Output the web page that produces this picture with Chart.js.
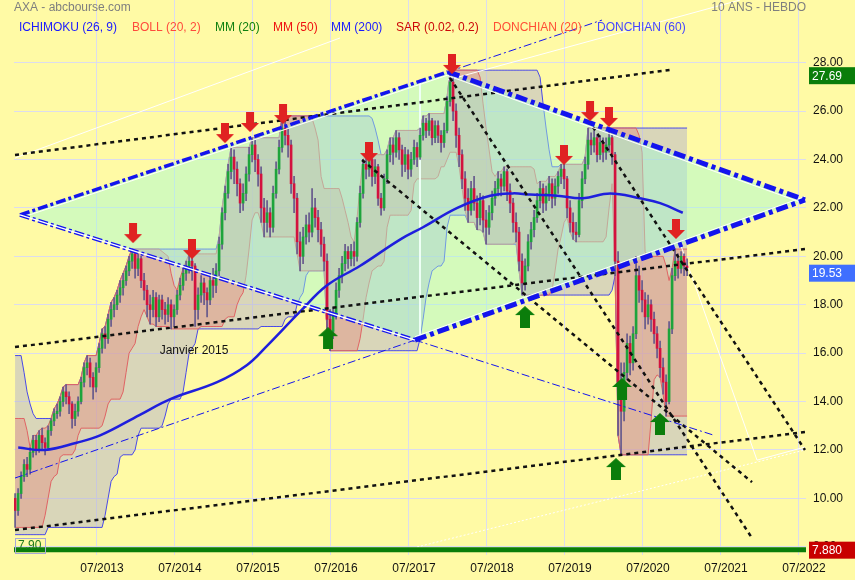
<!DOCTYPE html>
<html>
<head>
<meta charset="utf-8">
<title>AXA - 10 ans hebdo</title>
<script src="https://cdn.jsdelivr.net/npm/chart.js@4.4.1/dist/chart.umd.min.js"></script>
<style>
  html, body { margin: 0; padding: 0; background: #fffaa5; }
  canvas { display: block; }
</style>
</head>
<body>
<canvas id="axaChart" width="855" height="580"></canvas>
<script>
// -------------------------------
// Data (bi-weekly candles)
// -------------------------------
const firstDate = 2012.45;   // decimal year of the first candle
const candleStep = 1 / 26;   // two weeks
const firstOpen = 10.0;

const closes = [
  9.5,10.2,10.9,11.4,11.2,11.9,12.4,12.0,12.6,12.3,
  12.1,12.8,13.2,13.5,13.6,14.0,14.4,14.2,13.9,13.3,
  13.6,14.0,14.8,15.4,15.6,15.0,14.6,15.4,16.2,16.8,
  16.6,17.4,17.8,18.0,18.4,18.7,19.0,19.4,19.8,20.1,
  19.5,19.9,19.0,18.6,18.0,17.8,18.3,17.5,18.2,17.8,
  17.6,18.0,17.5,17.8,18.4,18.8,19.3,19.6,19.8,19.6,
  17.8,18.4,18.9,18.5,18.2,19.0,18.8,19.4,20.5,21.8,
  22.6,23.5,24.1,23.6,23.0,22.2,22.6,23.4,24.2,24.6,
  24.0,23.4,22.0,21.4,21.8,21.2,22.6,23.6,24.5,25.3,
  25.0,24.6,23.0,22.4,20.6,20.0,20.8,21.3,21.0,22.0,
  21.6,21.1,20.5,19.8,17.4,16.9,17.6,18.6,19.2,19.7,
  20.2,19.9,20.2,20.0,21.4,22.6,23.8,23.6,24.0,23.3,
  23.7,22.4,22.0,23.2,24.2,24.6,24.3,24.9,24.4,23.8,
  24.2,23.6,24.0,24.5,24.1,25.0,25.5,25.2,25.6,24.9,
  25.4,25.0,24.7,25.2,26.4,27.2,26.0,25.0,24.2,23.2,
  22.4,21.9,22.8,22.2,21.6,22.3,21.5,21.2,21.8,22.4,
  22.8,23.2,22.9,23.5,22.7,22.2,21.4,21.0,19.8,18.9,
  19.6,20.6,21.1,21.6,22.3,22.8,22.2,22.6,23.0,22.4,
  22.9,23.3,23.6,23.2,22.0,21.4,21.0,20.9,22.3,23.2,
  23.8,24.8,24.6,24.9,24.2,24.7,24.3,24.6,24.9,24.2,
  19.8,14.8,13.6,15.2,16.4,15.6,16.8,19.2,18.6,18.2,
  17.5,18.0,17.4,16.8,16.2,15.4,14.8,14.0,17.0,19.2,
  19.8,19.5,20.0,19.6,19.53
];

const highs = [
  10.2,10.4,11.1,11.6,11.7,12.1,12.6,12.6,12.8,12.9,
  12.5,13.0,13.3,13.7,13.9,14.2,14.6,14.7,14.4,14.0,
  13.9,14.2,15.0,15.6,15.9,15.8,15.2,15.6,16.4,17.0,
  17.1,17.6,18.1,18.3,18.6,19.0,19.3,19.6,20.0,20.3,
  20.2,20.1,20.0,19.3,18.8,18.4,18.6,18.5,18.4,18.4,
  18.1,18.3,18.2,18.0,18.6,19.1,19.5,19.8,20.1,20.0,
  19.7,18.7,19.2,19.1,18.7,19.3,19.5,19.7,20.8,22.0,
  22.9,23.8,24.5,24.4,23.9,23.2,23.0,23.7,24.5,24.9,
  24.8,24.2,23.7,22.4,22.3,22.0,22.9,23.9,24.8,25.8,
  25.7,25.3,24.8,23.3,22.6,21.0,21.2,21.7,21.8,22.8,
  22.4,21.9,21.4,20.8,20.1,17.8,17.9,18.9,19.5,20.0,
  20.5,20.4,20.5,20.6,21.6,22.9,24.0,24.2,24.2,24.1,
  24.0,23.8,22.6,23.4,24.4,24.9,24.9,25.2,25.1,24.6,
  24.5,24.4,24.3,24.8,24.7,25.3,25.8,25.7,25.9,25.7,
  25.6,25.6,25.2,25.5,26.6,27.69,27.4,26.3,25.3,24.4,
  23.5,22.8,23.1,23.3,22.5,22.6,22.5,21.9,22.1,22.7,
  23.1,23.5,23.4,23.7,23.6,23.0,22.4,21.8,21.2,20.1,
  19.9,20.9,21.4,21.9,22.6,23.1,23.0,22.9,23.3,23.2,
  23.2,23.5,23.8,23.8,23.3,22.3,21.8,21.4,22.6,23.5,
  24.1,25.3,25.1,25.2,25.0,25.0,24.9,24.9,25.3,25.0,
  24.3,20.2,15.6,15.6,16.8,16.7,17.1,20.0,19.6,19.0,
  18.5,18.4,18.2,17.7,17.1,16.5,15.8,15.1,17.3,19.5,
  20.3,20.1,20.2,20.1,19.9
];

const lows = [
  8.8,9.3,10.0,10.7,10.9,11.0,11.7,11.8,11.9,12.0,
  11.8,12.0,12.6,13.0,13.3,13.4,13.8,13.9,13.5,12.9,
  13.0,13.4,13.9,14.6,15.1,14.6,14.1,14.4,15.2,16.0,
  16.2,16.4,17.1,17.5,17.8,18.1,18.4,18.8,19.2,19.5,
  19.1,19.2,18.7,18.2,17.5,17.2,17.5,17.1,17.3,17.4,
  17.2,17.3,17.0,17.1,17.6,18.2,18.6,19.0,19.3,19.0,
  17.1,17.4,18.1,18.0,17.5,18.0,18.3,18.5,19.2,20.3,
  21.5,22.4,23.2,23.0,22.5,21.8,21.9,22.3,23.1,23.9,
  23.5,22.9,21.4,20.8,21.0,20.8,21.0,22.4,23.4,24.3,
  24.6,24.1,22.6,21.8,20.1,19.4,19.7,20.5,20.6,20.8,
  21.2,20.6,20.0,19.4,16.8,16.1,16.6,17.4,18.3,18.9,
  19.4,19.5,19.6,19.6,19.8,21.2,22.4,23.2,23.3,22.9,
  23.0,22.1,21.7,21.9,23.0,23.9,23.8,24.1,24.0,23.3,
  23.5,23.2,23.3,23.8,23.7,24.0,24.8,24.9,25.0,24.6,
  24.7,24.7,24.3,24.5,25.1,26.2,25.6,24.5,23.7,22.8,
  21.9,21.4,21.7,21.9,21.1,21.3,21.0,20.5,20.9,21.5,
  22.1,22.5,22.5,22.7,22.3,21.8,21.0,20.6,19.4,18.4,
  18.6,19.4,20.3,20.8,21.4,22.0,21.8,21.9,22.3,22.0,
  22.1,22.6,23.0,22.8,21.6,21.0,20.7,20.6,20.8,22.0,
  23.0,23.6,24.2,24.3,23.9,24.0,23.9,24.0,24.3,23.8,
  19.2,12.6,11.8,13.2,14.9,15.1,15.3,16.6,18.1,17.7,
  17.0,17.2,16.9,16.4,15.8,15.0,14.3,13.4,13.9,16.8,
  19.0,19.1,19.3,19.2,19.2
];

// the 60 weeks before the window, only feeding the Donchian channels
const priorHighs = [
  15.0,15.4,15.6,15.9,15.2,14.4,13.9,13.5,11.5,10.8,
  10.4,10.2,10.6,11.2,11.6,11.2,10.7,10.5,10.3,10.5,
  10.8,11.6,12.4,13.0,13.3,12.8,12.0,11.2,10.5,10.2
];
const priorLows = [
  14.5,14.8,14.6,14.2,13.0,11.0,10.0,9.6,9.4,9.0,
  8.6,8.5,9.2,10.0,10.5,9.8,9.5,9.4,9.6,9.9,
  10.1,10.6,11.5,12.2,12.4,11.5,10.8,9.8,9.2,8.9
];

// MM (200) read at a few dates
const mm200Dates = [2012.49, 2012.83, 2013.24, 2013.54, 2014.05, 2014.44, 2015.04, 2015.42,
  2015.68, 2016.10, 2016.45, 2016.87, 2017.39, 2017.68, 2018.12, 2018.54, 2018.83, 2019.05,
  2019.40, 2019.73, 2020.08, 2020.46, 2020.72, 2021.01];
const mm200Values = [12.1, 12.0, 12.3, 12.6, 13.45, 14.1, 14.8, 15.5,
  16.3, 17.7, 18.8, 19.6, 20.7, 21.2, 22.0, 22.5, 22.6, 22.55,
  22.5, 22.4, 22.6, 22.4, 22.2, 21.8];

const tickYears = [2013.5, 2014.5, 2015.5, 2016.5, 2017.5, 2018.5, 2019.5, 2020.5, 2021.5, 2022.5];
const tickLabels = ["07/2013", "07/2014", "07/2015", "07/2016", "07/2017",
  "07/2018", "07/2019", "07/2020", "07/2021", "07/2022"];
const priceTicks = [8, 10, 12, 14, 16, 18, 20, 22, 24, 26, 28];

// drawn trend lines, as [date, price] end points
const dottedLines = [
  [[2012.449, 16.25], [2022.577, 20.30]],
  [[2012.449, 24.19], [2020.846, 27.70]],
  [[2012.449, 8.69], [2022.577, 12.74]],
  [[2016.898, 23.98], [2021.898, 10.67]],
  [[2018.026, 27.37], [2021.898, 8.36]],
  [[2019.859, 25.34], [2022.577, 12.00]]
];
const diamondLeft = [2012.513, 21.71];
const diamondTop = [2018.0, 27.62];
const diamondRight = [2022.577, 22.33];
const diamondBottom = [2017.577, 16.54];
const thinBlueLines = [
  [[2018.0, 27.62], [2019.974, 29.76]],
  [[2017.577, 16.54], [2021.398, 12.62]],
  [[2012.449, 10.84], [2017.577, 16.54]]
];
const whiteLines = [
  [[2012.449, 24.06], [2016.615, 29.02]],
  [[2018.0, 27.29], [2021.744, 30.59]],
  [[2020.974, 20.55], [2021.962, 11.58], [2022.577, 12.12]],
  [[2017.641, 27.25], [2017.641, 16.62]]
];
const whiteDotted = [[2017.603, 7.99], [2022.577, 12.0]];

const redArrows = [[2013.962, 20.96], [2014.718, 20.30], [2015.141, 25.09], [2015.462, 25.55],
  [2015.885, 25.88], [2016.987, 24.31], [2018.051, 27.95], [2019.487, 24.19], [2019.821, 26.0],
  [2020.064, 25.76], [2020.923, 21.13]];
const greenArrows = [[2016.462, 16.62], [2018.987, 17.49], [2020.231, 14.52], [2020.718, 13.07],
  [2020.154, 11.21]];

const noteText = "Janvier 2015";
const notePoint = [2014.744, 16.09];

const lastClose = 19.53;
const maxHigh = 27.69;
const supportLevel = 7.88;
const lowestLabel = "7.90";

// -------------------------------
// Build series
// -------------------------------
const candleDates = closes.map((c, i) => firstDate + i * candleStep);
const opens = closes.map((c, i) => (i === 0 ? firstOpen : closes[i - 1]));

function donchian(n) {
  const hs = priorHighs.concat(highs);
  const ls = priorLows.concat(lows);
  const off = priorHighs.length;
  const up = [], dn = [];
  for (let i = 0; i < closes.length; i++) {
    const a = off + i - n + 1, b = off + i + 1;
    up.push({ x: candleDates[i], y: Math.max(...hs.slice(a, b)) });
    dn.push({ x: candleDates[i], y: Math.min(...ls.slice(a, b)) });
  }
  return { up, dn };
}
const don60 = donchian(30);
const don20 = donchian(10);

function seg(points, color, width, dash, order) {
  return {
    type: "line",
    data: points.map(p => ({ x: p[0], y: p[1] })),
    borderColor: color,
    borderWidth: width,
    borderDash: dash || [],
    pointRadius: 0,
    fill: false,
    tension: 0,
    order: order
  };
}

// shift a segment a little in price (white edge along the blue lines)
function shifted(a, b, dy) {
  return [[a[0], a[1] + dy], [b[0], b[1] + dy]];
}

function arrowImage(color, down) {
  const c = document.createElement("canvas");
  const g = c.getContext("2d");
  let pts;
  if (down) {
    c.width = 18; c.height = 20;
    pts = [[5, 0], [13, 0], [13, 11], [18, 11], [9, 20], [0, 11], [5, 11]];
  } else {
    c.width = 20; c.height = 22;
    pts = [[10, 0], [20, 9], [15, 9], [15, 22], [5, 22], [5, 9], [0, 9]];
  }
  g.fillStyle = color;
  g.beginPath();
  pts.forEach((p, i) => (i ? g.lineTo(p[0], p[1]) : g.moveTo(p[0], p[1])));
  g.closePath();
  g.fill();
  return c;
}

const GREEN = "#1ea43c";
const RED = "#d3123e";
const BLUE = "#1414ee";
const DOT = [4, 4];
const DASHDOT = [12, 4, 4, 4];

const datasets = [];

// Donchian 60 (blue) and 20 (red) channels
datasets.push({ type: "line", data: don60.up, borderColor: "#4a4ae8", borderWidth: 1, pointRadius: 0,
  fill: "+1", backgroundColor: "rgba(180,178,205,0.5)", order: 100 });
datasets.push({ type: "line", data: don60.dn, borderColor: "#4a4ae8", borderWidth: 1, pointRadius: 0,
  fill: false, order: 99 });
datasets.push({ type: "line", data: don20.up, borderColor: "#e06464", borderWidth: 1, pointRadius: 0,
  fill: "+1", backgroundColor: "rgba(225,150,135,0.5)", order: 90 });
datasets.push({ type: "line", data: don20.dn, borderColor: "#e06464", borderWidth: 1, pointRadius: 0,
  fill: false, order: 89 });

// green diamond
datasets.push({
  type: "line",
  data: [diamondLeft, diamondTop, diamondRight, diamondBottom, diamondLeft].map(p => ({ x: p[0], y: p[1] })),
  borderWidth: 0, borderColor: "rgba(0,0,0,0)", pointRadius: 0,
  fill: "shape", backgroundColor: "rgba(160,250,215,0.45)", order: 80
});

// thin white lines
whiteLines.forEach(l => datasets.push(seg(l, "#ffffff", 1, [], 70)));
datasets.push(seg(whiteDotted, "#ffffff", 1, [2, 2], 70));
datasets[datasets.length - 2].borderWidth = 2;
datasets[datasets.length - 2].borderColor = "#eefff6";

// candles
datasets.push({
  type: "bar",
  data: candleDates.map((x, i) => ({ x: x, y: [lows[i], highs[i]] })),
  backgroundColor: "#65588c", barThickness: 1, grouped: false, order: 60
});
datasets.push({
  type: "bar",
  data: candleDates.map((x, i) => ({ x: x, y: [opens[i], closes[i]] })),
  backgroundColor: closes.map((c, i) => (c >= opens[i] ? GREEN : RED)),
  barThickness: 2, minBarLength: 1, grouped: false, order: 50
});

// MM (200)
datasets.push({
  type: "line",
  data: mm200Dates.map((x, i) => ({ x: x, y: mm200Values[i] })),
  borderColor: "#1f1fdd", borderWidth: 2.5, pointRadius: 0, tension: 0.4, fill: false, order: 40
});

// black dotted trend lines
dottedLines.forEach(l => datasets.push(seg(l, "#111111", 2.5, DOT, 30)));

// blue dash-dot diamond edges
datasets.push(seg(shifted(diamondLeft, diamondTop, -0.13), "#ffffff", 1, [], 22));
datasets.push(seg(shifted(diamondTop, diamondRight, -0.16), "#ffffff", 1, [], 22));
datasets.push(seg(shifted(diamondBottom, diamondRight, 0.14), "#ffffff", 1, [], 22));
datasets.push(seg([diamondLeft, diamondTop], BLUE, 3.5, [10, 3, 3, 3], 20));
datasets.push(seg([diamondTop, diamondRight], BLUE, 5, DASHDOT, 20));
datasets.push(seg([diamondBottom, diamondRight], BLUE, 5, DASHDOT, 20));
datasets.push(seg([diamondLeft, diamondBottom], BLUE, 4, [10, 3, 3, 3], 20));
datasets.push(seg([diamondLeft, diamondBottom], "#ffffff", 1.2, [], 19));
thinBlueLines.forEach(l => datasets.push(seg(l, BLUE, 1, [8, 3, 2, 3], 20)));

// support line at the lowest level
datasets.push(seg([[2012.3, supportLevel], [2022.7, supportLevel]], "#0a7d0a", 5, [], 15));

// arrows
datasets.push({
  type: "line", showLine: false, order: 10,
  data: redArrows.map(p => ({ x: p[0], y: p[1] })),
  pointStyle: arrowImage("#e02222", true), pointRadius: 10
});
datasets.push({
  type: "line", showLine: false, order: 10,
  data: greenArrows.map(p => ({ x: p[0], y: p[1] })),
  pointStyle: arrowImage("#0b7d0b", false), pointRadius: 10
});

// -------------------------------
// Texts, boxes and background
// -------------------------------
const FONT = "Arial, 'Liberation Sans', sans-serif";

const overlay = {
  id: "overlay",
  beforeDraw(chart) {
    const ctx = chart.ctx;
    ctx.save();
    ctx.fillStyle = "#fffaa5";
    ctx.fillRect(0, 0, chart.width, chart.height);
    ctx.restore();
  },
  afterDraw(chart) {
    const ctx = chart.ctx;
    const x = chart.scales.x, y = chart.scales.y;
    ctx.save();
    ctx.font = "12px " + FONT;
    ctx.textBaseline = "middle";

    // title
    ctx.fillStyle = "#7f7f7f";
    ctx.textAlign = "left";
    ctx.fillText("AXA - abcbourse.com", 14, 8);
    ctx.textAlign = "right";
    ctx.fillText("10 ANS - HEBDO", 806, 8);

    // indicator header
    const items = [
      ["ICHIMOKU (26, 9)", "#1a1aff", 19], ["BOLL (20, 2)", "#ff4a3c", 132],
      ["MM (20)", "#108010", 215], ["MM (50)", "#ee1010", 273],
      ["MM (200)", "#1a1aff", 331], ["SAR (0.02, 0.2)", "#cc0808", 396],
      ["DONCHIAN (20)", "#ff4e36", 493], ["DONCHIAN (60)", "#4646ff", 597]
    ];
    ctx.textAlign = "left";
    items.forEach(it => { ctx.fillStyle = it[1]; ctx.fillText(it[0], it[2], 28); });

    // note under the 2015 low
    ctx.fillStyle = "#111111";
    ctx.textAlign = "center";
    ctx.fillText(noteText, x.getPixelForValue(notePoint[0]), y.getPixelForValue(notePoint[1]));

    // lowest value label
    ctx.strokeStyle = "#a8a8d8";
    ctx.lineWidth = 1;
    ctx.strokeRect(15.5, 538.5, 30, 15);
    ctx.fillStyle = "#1e7a1e";
    ctx.textAlign = "left";
    ctx.fillText(lowestLabel, 18, 546);

    // value boxes on the price axis
    function box(value, color, text, shift) {
      const py = y.getPixelForValue(value) + shift;
      ctx.fillStyle = color;
      ctx.fillRect(809, py - 8, 46, 17);
      ctx.fillStyle = "#ffffff";
      ctx.textAlign = "left";
      ctx.fillText(text, 812, py + 1);
    }
    box(maxHigh, "#0a7d0a", maxHigh.toFixed(2), 5);
    box(lastClose, "#3f6fff", lastClose.toFixed(2), 5);
    box(supportLevel, "#c80000", supportLevel.toFixed(3), 0);
    ctx.restore();
  }
};

// -------------------------------
// Chart
// -------------------------------
const GRID = "#dcdcee";

new Chart(document.getElementById("axaChart"), {
  type: "line",
  data: { datasets: datasets },
  options: {
    responsive: false,
    animation: false,
    devicePixelRatio: 1,
    layout: { autoPadding: false, padding: { left: 14, top: 0, right: 0, bottom: 0 } },
    plugins: { legend: { display: false }, tooltip: { enabled: false } },
    scales: {
      x: {
        type: "linear",
        min: 2012.436,
        max: 2022.59,
        offset: false,
        afterBuildTicks: s => { s.ticks = tickYears.map(v => ({ value: v })); },
        afterFit: s => { s.height = 25; s.paddingLeft = 0; s.paddingRight = 0; },
        ticks: {
          callback: (v, i) => tickLabels[i],
          color: "#111111",
          font: { family: FONT, size: 12 },
          padding: 6,
          labelOffset: 5,
          maxRotation: 0,
          autoSkip: false
        },
        grid: { color: GRID, drawTicks: false, offset: false },
        border: { display: false }
      },
      y: {
        type: "linear",
        position: "right",
        min: 7.66,
        max: 30.59,
        afterBuildTicks: s => { s.ticks = priceTicks.map(v => ({ value: v })); },
        afterFit: s => { s.width = 49; s.paddingTop = 0; s.paddingBottom = 0; },
        ticks: {
          callback: v => v.toFixed(2),
          color: "#111111",
          font: { family: FONT, size: 12 },
          padding: 7
        },
        grid: { color: GRID, drawTicks: false },
        border: { display: false }
      }
    }
  },
  plugins: [overlay]
});
</script>
</body>
</html>
